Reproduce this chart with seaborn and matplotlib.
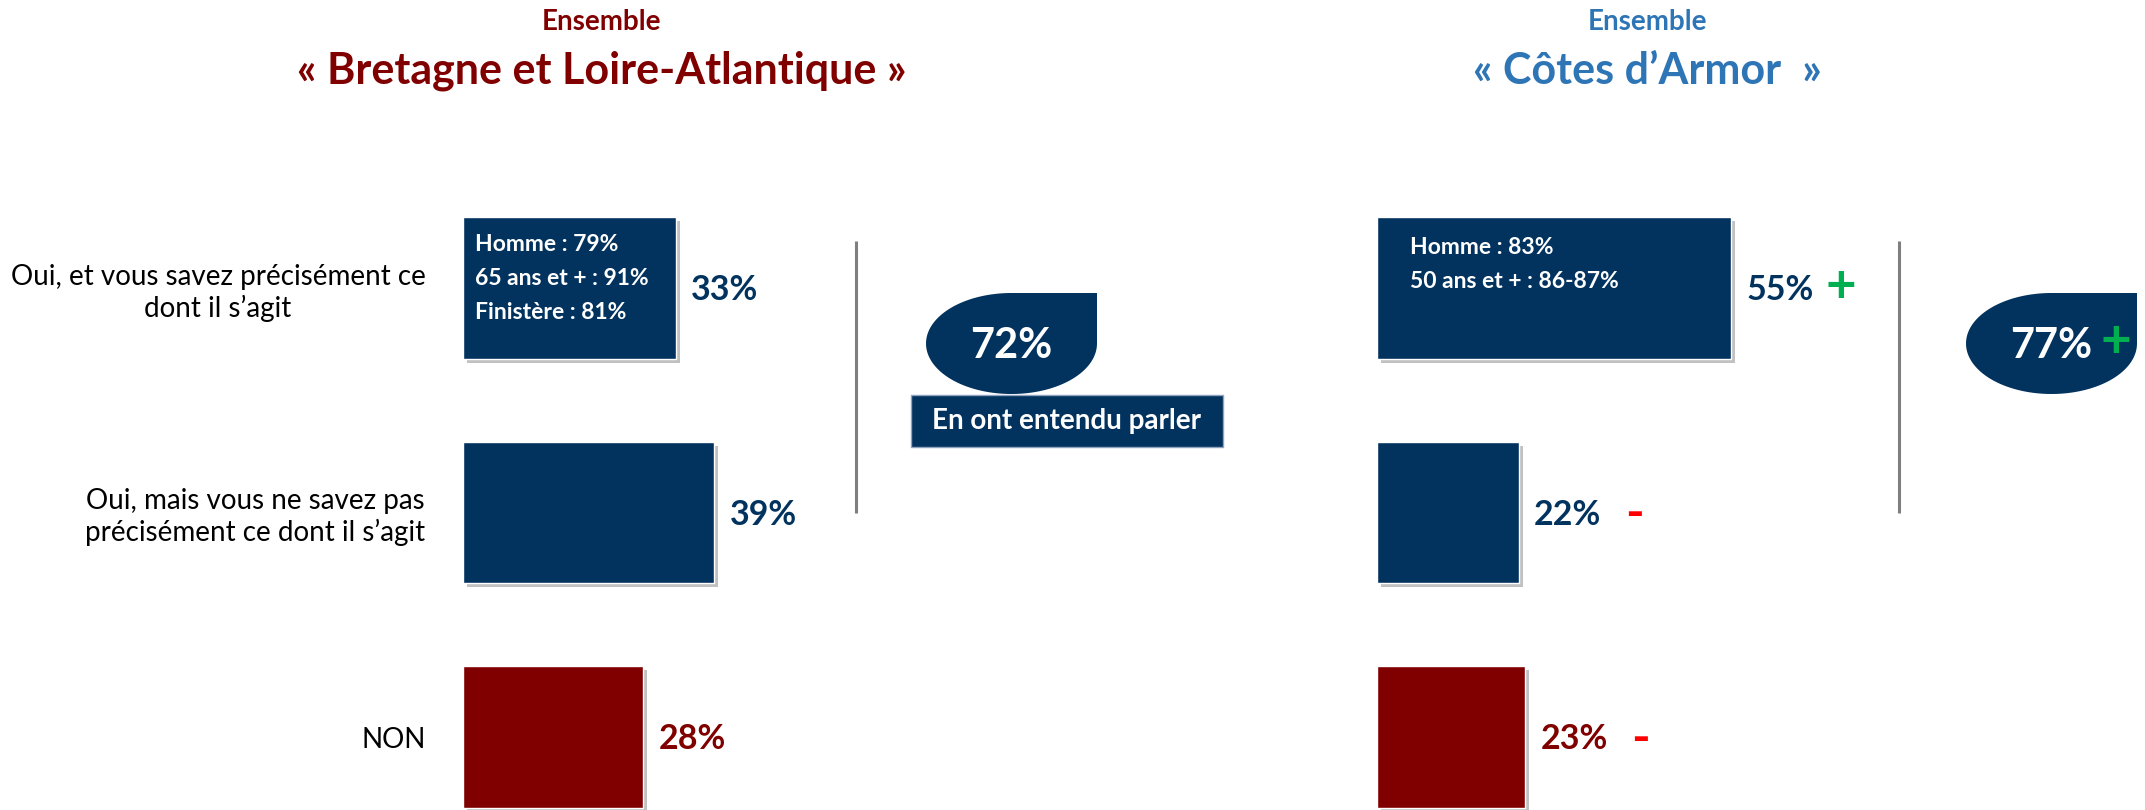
import numpy as np
import pandas as pd
import seaborn as sns
import matplotlib.pyplot as plt
import matplotlib.patheffects as pe
from matplotlib.patches import Polygon, Rectangle

# --- data ---
categories = ["Oui, et vous savez précisément ce\ndont il s’agit",
              "Oui, mais vous ne savez pas\nprécisément ce dont il s’agit",
              "NON"]
bretagne_values = [33, 39, 28]
cotes_values = [55, 22, 23]
cotes_signs = ["+", "-", "-"]
bretagne_total = 72
cotes_total = 77
cotes_total_sign = "+"
bretagne_profile = "Homme : 79%\n65 ans et + : 91%\nFinistère : 81%"
cotes_profile = "Homme : 83%\n50 ans et + : 86-87%"
total_label = "En ont entendu parler"

NAVY = "#02335F"
DARKRED = "#800000"
BLUE = "#2E75B6"
GREEN = "#00B050"
RED = "#FF0000"
bar_colors = [NAVY, NAVY, DARKRED]

sns.set_theme(style="white")
plt.rcParams['font.family'] = ['Lato', 'DejaVu Sans']

W, H = 2145, 810
fig = plt.figure(figsize=(W / 100, H / 100), dpi=100)

# background axes in pixel units for titles, separators and bubbles
bg = fig.add_axes([0, 0, 1, 1])
bg.set_xlim(0, W)
bg.set_ylim(H, 0)
bg.axis('off')

PX_PER_PCT = 6.44
XMAX = 70
ROW_PX = 224.5
TOP_ROW_PX = 288
LAST_ROW_PX = 737


def panel(x0, values, show_labels):
    ax = fig.add_axes([x0 / W, 0, XMAX * PX_PER_PCT / W, 1])
    ax.patch.set_visible(False)
    df = pd.DataFrame({'cat': categories, 'val': values})
    sns.barplot(data=df, x='val', y='cat', hue='cat', palette=bar_colors,
                legend=False, width=0.63, saturation=1, orient='h', ax=ax)
    for p in ax.patches:
        p.set_path_effects([pe.SimplePatchShadow(offset=(3, -3), shadow_rgbFace='#777777', alpha=0.45),
                            pe.Normal()])
    ax.set_xlim(0, XMAX)
    ax.set_ylim(2 + (H - LAST_ROW_PX) / ROW_PX, -TOP_ROW_PX / ROW_PX)
    sns.despine(ax=ax, left=True, bottom=True)
    ax.set_xticks([])
    ax.set_xlabel('')
    ax.set_ylabel('')
    if show_labels:
        ax.tick_params(axis='y', length=0, pad=27, labelsize=20, labelcolor='black')
        for lab in ax.get_yticklabels():
            lab.set_multialignment('center')
    else:
        ax.set_yticklabels([])
        ax.tick_params(axis='y', length=0)
    labels = []
    for i, v in enumerate(values):
        t = ax.text(v + 2.4, i + 0.01, f"{v}%", color=bar_colors[i], fontsize=24.5,
                    fontweight='bold', va='center', ha='left')
        labels.append(t)
    return ax, labels


axL, labL = panel(463, bretagne_values, True)
axR, labR = panel(1377, cotes_values, False)

# profile notes inside the first bars
axL.text(1.9, -0.042, bretagne_profile, color='white', fontsize=16.5, fontweight='bold',
         va='center', ha='left', linespacing=1.75)
axR.text(5.1, -0.105, cotes_profile, color='white', fontsize=16.5, fontweight='bold',
         va='center', ha='left', linespacing=1.75)

# significance signs
for t, s in zip(labR, cotes_signs):
    if s == "+":
        axR.annotate("+", xy=(1, 0.5), xycoords=t, xytext=(8, 2), textcoords='offset points',
                     ha='left', va='center', color=GREEN, fontsize=38, fontweight='bold')
    else:
        axR.annotate("-", xy=(1, 0.5), xycoords=t, xytext=(17, 0), textcoords='offset points',
                     ha='left', va='center', color=RED, fontsize=36, fontweight='bold')

# titles
bg.text(602, 22, "Ensemble", ha='center', va='center', color=DARKRED, fontsize=20, fontweight='bold')
bg.text(602, 71, "« Bretagne et Loire-Atlantique »", ha='center', va='center', color=DARKRED,
        fontsize=31, fontweight='bold')
bg.text(1647, 22, "Ensemble", ha='center', va='center', color=BLUE, fontsize=20, fontweight='bold')
bg.text(1647, 71, "« Côtes d’Armor  »", ha='center', va='center', color=BLUE,
        fontsize=31, fontweight='bold')

# separators
for x in (856, 1899):
    bg.plot([x, x], [241, 513], color='#7F7F7F', lw=2.2, solid_capstyle='butt')


def teardrop(x0, y0, x1, y1):
    cx, cy = (x0 + x1) / 2, (y0 + y1) / 2
    rx, ry = (x1 - x0) / 2, (y1 - y0) / 2
    t = np.linspace(0, 1.5 * np.pi, 120)
    verts = list(zip(cx + rx * np.cos(t), cy + ry * np.sin(t))) + [(x1, y0), (x1, cy)]
    bg.add_patch(Polygon(verts, closed=True, facecolor=NAVY, edgecolor='none'))
    return cx, cy


cx, cy = teardrop(926, 293, 1097, 394)
bg.text(cx, cy + 2, f"{bretagne_total}%", ha='center', va='center', color='white',
        fontsize=30, fontweight='bold')
bg.add_patch(Rectangle((911, 395), 312, 52, facecolor=NAVY, edgecolor='#8FA3BF', lw=1))
bg.text(1067, 421, total_label, ha='center', va='center', color='white', fontsize=20, fontweight='bold')

cx, cy = teardrop(1966, 293, 2137, 394)
t77 = bg.text(cx, cy + 2, f"{cotes_total}%", ha='center', va='center', color='white',
              fontsize=30, fontweight='bold')
bg.annotate(cotes_total_sign, xy=(1, 0.5), xycoords=t77, xytext=(6, 2), textcoords='offset points',
            ha='left', va='center', color=GREEN, fontsize=38, fontweight='bold')

fig.savefig('out.png', dpi=100)
